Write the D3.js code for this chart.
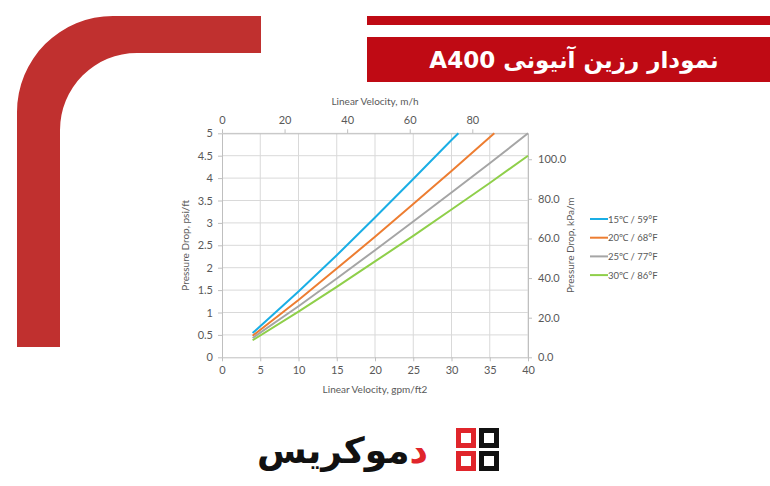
<!DOCTYPE html>
<html><head><meta charset="utf-8">
<script src="https://cdn.jsdelivr.net/npm/d3@7"></script>
<style>
html,body{margin:0;padding:0;background:#fff;}
svg{display:block;}
</style></head>
<body>
<svg id="c" width="770" height="486"></svg>
<script>
// ---- data ----
const seriesNames = ["15℃ / 59°F", "20℃ / 68°F", "25℃ / 77°F", "30℃ / 86°F"];
const seriesColors = ["#1aaee5", "#ed7d31", "#a5a5a5", "#8fcf4a"];
const velocity15 = [4, 10, 15, 20, 25, 30, 30.9];
const drop15     = [0.54, 1.47, 2.28, 3.12, 3.98, 4.85, 5.0];
const velocity20 = [4, 10, 15, 20, 25, 30, 35, 35.6];
const drop20     = [0.48, 1.28, 1.98, 2.69, 3.42, 4.16, 4.91, 5.0];
const velocity25 = [4, 10, 15, 20, 25, 30, 35, 40];
const drop25     = [0.43, 1.14, 1.76, 2.39, 3.03, 3.68, 4.33, 5.0];
const velocity30 = [4, 10, 15, 20, 25, 30, 35, 40];
const drop30     = [0.38, 1.02, 1.57, 2.14, 2.71, 3.30, 3.89, 4.50];
const bottomTicks = [0, 5, 10, 15, 20, 25, 30, 35, 40];
const leftTicks = [0, 0.5, 1, 1.5, 2, 2.5, 3, 3.5, 4, 4.5, 5];
const topTicks = [0, 20, 40, 60, 80];
const rightTicks = [0, 20, 40, 60, 80, 100];
const gpmToMh = 2.445;     // 1 gpm/ft2 = 2.445 m/h
const psiToKpa = 22.62;    // 1 psi/ft = 22.62 kPa/m
const titleText = "نمودار رزین آنیونی  A400";
const logoText = "موکریس";
const logoRed = "د";

const series = [
  {name: seriesNames[0], color: seriesColors[0], xs: velocity15, ys: drop15},
  {name: seriesNames[1], color: seriesColors[1], xs: velocity20, ys: drop20},
  {name: seriesNames[2], color: seriesColors[2], xs: velocity25, ys: drop25},
  {name: seriesNames[3], color: seriesColors[3], xs: velocity30, ys: drop30},
];

const svg = d3.select("#c");
const red = "#c0302f";
const boxRed = "#bf0a14";

// ---- decorations ----
svg.append("path")
  .attr("d", "M261,16 H113 A96,96 0 0 0 17,112 V347 H60 V130 A77,77 0 0 1 137,53 H261 Z")
  .attr("fill", red);
svg.append("rect").attr("x", 367).attr("y", 16).attr("width", 403).attr("height", 9).attr("fill", boxRed);
svg.append("rect").attr("x", 367).attr("y", 37).attr("width", 403).attr("height", 45).attr("fill", boxRed);
svg.append("text").attr("x", 574).attr("y", 68)
  .attr("text-anchor", "middle").attr("direction", "rtl")
  .attr("fill", "#fff").attr("font-family", "'DejaVu Sans', 'Noto Sans', sans-serif")
  .attr("font-size", 23).attr("font-weight", "bold")
  .text(titleText);

// ---- scales ----
const L = 222, R = 528, T = 133.3, B = 357.3;
const x = d3.scaleLinear().domain([0, 40]).range([L, R]);
const y = d3.scaleLinear().domain([0, 5]).range([B, T]);
const xTop = d3.scaleLinear().domain([0, 40 * gpmToMh]).range([L, R]);
const yRight = d3.scaleLinear().domain([0, 5 * psiToKpa]).range([B, T]);

const grid = svg.append("g").attr("stroke", "#d9d9d9").attr("stroke-width", 1);
bottomTicks.slice(1).forEach(v => grid.append("line")
  .attr("x1", x(v)).attr("x2", x(v)).attr("y1", T).attr("y2", B));
leftTicks.slice(1).forEach(v => grid.append("line")
  .attr("x1", L).attr("x2", R).attr("y1", y(v)).attr("y2", y(v)));

const tickColor = "#595959";
const fontFam = "Lato, 'Open Sans', sans-serif";
function styleAxis(g) {
  g.selectAll("path").attr("stroke", "#bfbfbf");
  g.selectAll("line").attr("stroke", "#bfbfbf");
  g.selectAll("text").attr("fill", tickColor).attr("font-family", fontFam).attr("font-size", 11);
}

svg.append("g").attr("transform", `translate(0,${B})`)
  .call(d3.axisBottom(x).tickValues(bottomTicks).tickSize(4).tickPadding(5).tickSizeOuter(0))
  .call(styleAxis);
svg.append("g").attr("transform", `translate(${L},0)`)
  .call(d3.axisLeft(y).tickValues(leftTicks).tickSize(4).tickPadding(5).tickFormat(d3.format("")).tickSizeOuter(0))
  .call(styleAxis);
svg.append("g").attr("transform", `translate(0,${T})`)
  .call(d3.axisTop(xTop).tickValues(topTicks).tickSize(4).tickPadding(5).tickSizeOuter(0))
  .call(styleAxis);
svg.append("g").attr("transform", `translate(${R},0)`)
  .call(d3.axisRight(yRight).tickValues(rightTicks).tickSize(4).tickPadding(6).tickFormat(d3.format(".1f")).tickSizeOuter(0))
  .call(styleAxis);

// axis titles
const titleStyle = s => s.attr("fill", tickColor).attr("font-family", fontFam).attr("font-size", 10).attr("text-anchor", "middle");
svg.append("text").attr("x", (L + R) / 2).attr("y", 105).text("Linear Velocity, m/h").call(titleStyle);
svg.append("text").attr("x", (L + R) / 2).attr("y", 393).text("Linear Velocity, gpm/ft2").call(titleStyle);
svg.append("text").attr("transform", `translate(189,${(T + B) / 2}) rotate(-90)`).text("Pressure Drop, psi/ft").call(titleStyle);
svg.append("text").attr("transform", `translate(574,${(T + B) / 2}) rotate(-90)`).text("Pressure Drop, kPa/m").call(titleStyle);

// lines
const line = d3.line().x(d => x(d[0])).y(d => y(d[1]));
series.forEach(s => {
  svg.append("path").datum(s.xs.map((v, i) => [v, s.ys[i]]))
    .attr("d", line).attr("fill", "none").attr("stroke", s.color).attr("stroke-width", 2);
});

// legend
const lg = svg.append("g");
series.forEach((s, i) => {
  const yy = 219 + i * 18.7;
  lg.append("line").attr("x1", 590).attr("x2", 608).attr("y1", yy).attr("y2", yy)
    .attr("stroke", s.color).attr("stroke-width", 2);
  lg.append("text").attr("x", 608).attr("y", yy + 3.5).attr("fill", tickColor)
    .attr("font-family", fontFam).attr("font-size", 9.5).text(s.name);
});

// logo
const logo = svg.append("g");
logo.append("text").attr("x", 428).attr("y", 463).attr("text-anchor", "end")
  .attr("font-family", "'DejaVu Sans', sans-serif").attr("font-weight", "bold").attr("font-size", 36)
  .attr("fill", "#111")
  .call(t => { t.append("tspan").attr("fill", "#e0252b").text(logoRed); t.append("tspan").text(logoText); });
const sq = [[456, 428, "#e0252b"], [479, 428, "#111"], [456, 451, "#e0252b"], [479, 451, "#111"]];
sq.forEach(([sx, sy, c]) => logo.append("rect").attr("x", sx + 2.5).attr("y", sy + 2.5)
  .attr("width", 15).attr("height", 15).attr("fill", "none").attr("stroke", c).attr("stroke-width", 5));
</script>
</body></html>
